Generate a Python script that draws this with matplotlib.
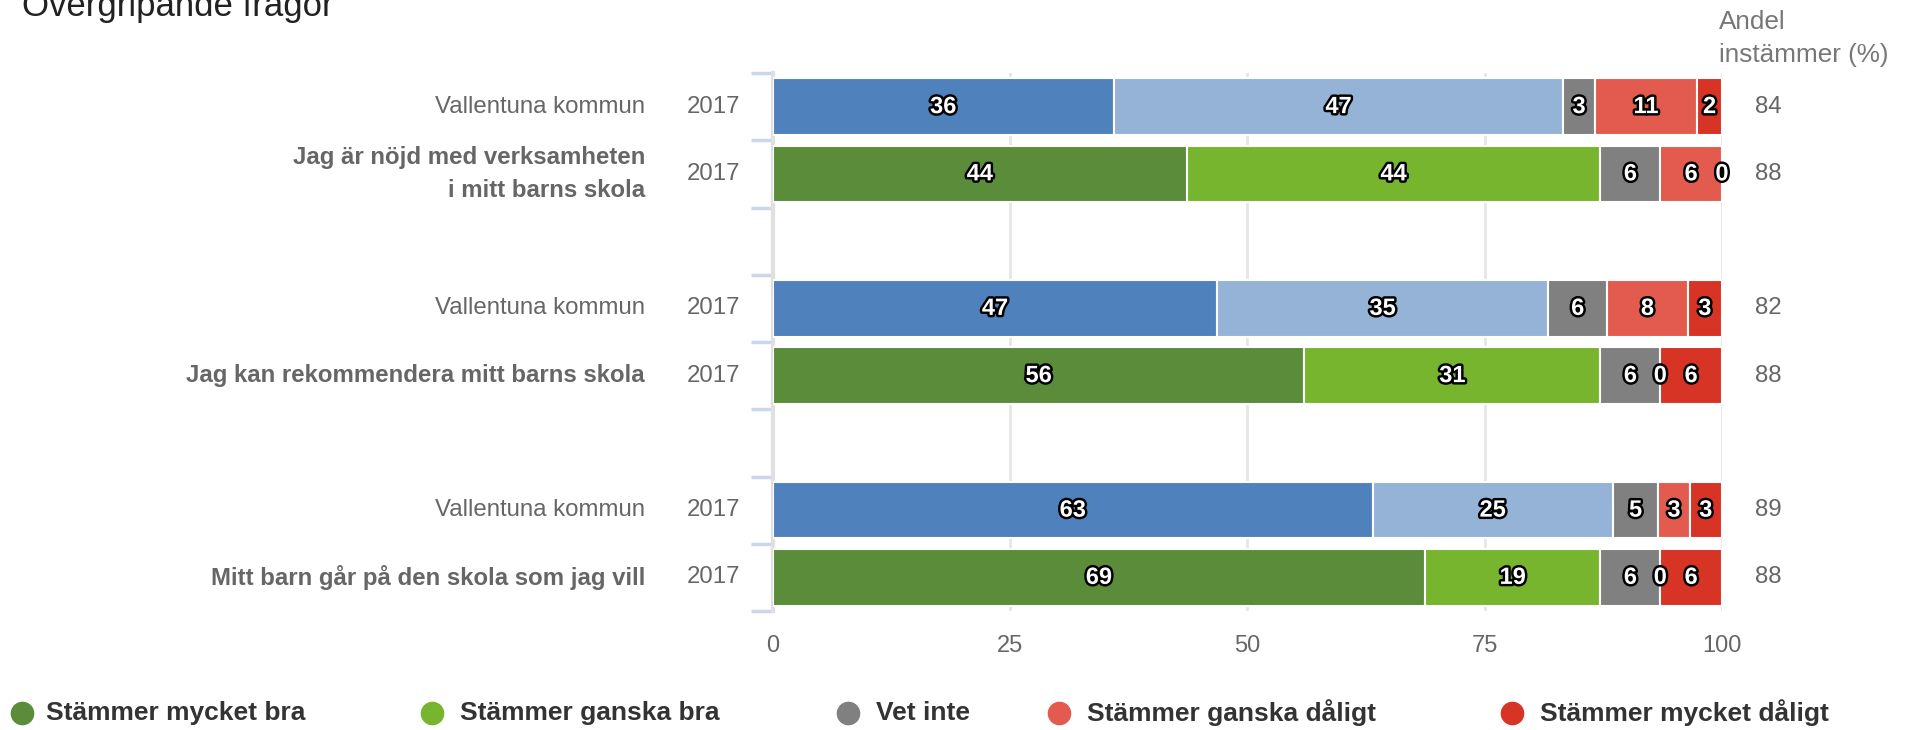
import numpy as np
import matplotlib
matplotlib.use("Agg")
import matplotlib.pyplot as plt
import matplotlib.patheffects as pe
from matplotlib.lines import Line2D

plt.rcParams["font.family"] = ["Liberation Sans", "DejaVu Sans"]

# ---------- data ----------
row_names = ["Vallentuna kommun", "Jag är nöjd med verksamheten\ni mitt barns skola", "",
             "Vallentuna kommun", "Jag kan rekommendera mitt barns skola", "",
             "Vallentuna kommun", "Mitt barn går på den skola som jag vill"]
row_years = ["2017", "2017", "", "2017", "2017", "", "2017", "2017"]
row_is_question = [False, True, False, False, True, False, False, True]

# segment widths and the printed labels
mycket_bra = [35.9, 43.6, None, 46.8, 56.0, None, 63.2, 68.7]
ganska_bra = [47.4, 43.6, None, 34.9, 31.2, None, 25.3, 18.5]
vet_inte = [3.3, 6.3, None, 6.2, 6.3, None, 4.8, 6.3]
ganska_daligt = [10.8, 6.5, None, 8.5, 0.0, None, 3.3, 0.0]
mycket_daligt = [2.6, 0.0, None, 3.6, 6.5, None, 3.4, 6.5]

lab_mycket_bra = [36, 44, None, 47, 56, None, 63, 69]
lab_ganska_bra = [47, 44, None, 35, 31, None, 25, 19]
lab_vet_inte = [3, 6, None, 6, 6, None, 5, 6]
lab_ganska_daligt = [11, 6, None, 8, 0, None, 3, 0]
lab_mycket_daligt = [2, 0, None, 3, 6, None, 3, 6]

andel_instammer = [84, 88, None, 82, 88, None, 89, 88]

legend_labels = ["Stämmer mycket bra", "Stämmer ganska bra", "Vet inte",
                 "Stämmer ganska dåligt", "Stämmer mycket dåligt"]
x_ticks = [0, 25, 50, 75, 100]

# ---------- style ----------
GREEN_DARK, GREEN_LIGHT = "#5b8c39", "#77b52f"
BLUE_DARK, BLUE_LIGHT = "#4f81bd", "#95b3d7"
GRAY, RED_LIGHT, RED_DARK = "#808080", "#e35b4f", "#d73426"
TXT = "#666666"

fig = plt.figure(figsize=(19.08, 7.3), dpi=100)
ax = fig.add_axes([0.4051, 0.163, 0.4974, 0.737])

series = [mycket_bra, ganska_bra, vet_inte, ganska_daligt, mycket_daligt]
labels = [lab_mycket_bra, lab_ganska_bra, lab_vet_inte, lab_ganska_daligt, lab_mycket_daligt]
outline = [pe.withStroke(linewidth=3.5, foreground="black")]

for i in range(len(row_names)):
    if mycket_bra[i] is None:
        continue
    if row_is_question[i]:
        cols = [GREEN_DARK, GREEN_LIGHT, GRAY, RED_LIGHT, RED_DARK]
    else:
        cols = [BLUE_DARK, BLUE_LIGHT, GRAY, RED_LIGHT, RED_DARK]
    left = 0.0
    for s, lab, c in zip(series, labels, cols):
        w = s[i]
        if w > 0:
            ax.barh(i, w, left=left, height=0.84, color=c, edgecolor="white",
                    linewidth=1.5, zorder=3)
        ax.text(left + w / 2, i, str(lab[i]), ha="center", va="center",
                fontsize=17, fontweight="bold", color="white",
                path_effects=outline, zorder=5)
        left += w

ax.set_xlim(0, 100)
ax.set_ylim(len(row_names) - 0.5, -0.5)

ax.set_xticks(x_ticks)
ax.set_xticklabels([str(t) for t in x_ticks])
ax.tick_params(axis="x", length=0, pad=17, labelsize=17, labelcolor=TXT)
ax.set_yticks(np.arange(-0.5, len(row_names), 1.0))
ax.set_yticklabels([])
ax.tick_params(axis="y", length=16, width=2.5, color="#ccd6eb")
ax.grid(axis="x", color="#e6e6e6", linewidth=2, zorder=0)
ax.set_axisbelow(True)
for sp in ["top", "right", "bottom"]:
    ax.spines[sp].set_visible(False)
ax.spines["left"].set_color("#e0e0e0")
ax.spines["left"].set_linewidth(3)

# row labels, years and the right-hand column
ytrans = ax.get_yaxis_transform()
for i, name in enumerate(row_names):
    if not name:
        continue
    ax.text(-0.1349, i, name, transform=ytrans, ha="right", va="center",
            fontsize=17.3, color=TXT, linespacing=1.55,
            fontweight="bold" if row_is_question[i] else "normal")
    ax.text(-0.0348, i, row_years[i], transform=ytrans, ha="right", va="center",
            fontsize=17.3, color=TXT)
    ax.text(1.0485, i, str(andel_instammer[i]), transform=ytrans, ha="center",
            va="center", fontsize=17.3, color=TXT)

ax.text(0.9968, 1.064, "Andel\ninstämmer (%)", transform=ax.transAxes,
        ha="left", va="center", fontsize=18.8, color="#777777", linespacing=1.45)

fig.text(22 / 1908, 1 - 16 / 730, "Övergripande frågor", ha="left",
         va="baseline", fontsize=25, color="#222222")

# legend
leg_colors = [GREEN_DARK, GREEN_LIGHT, GRAY, RED_LIGHT, RED_DARK]
leg_marker_x = [22, 432, 848, 1059, 1512]
leg_text_x = [46, 460, 876, 1087, 1540]
ly = 1 - 713 / 730
for lab, c, mx, tx in zip(legend_labels, leg_colors, leg_marker_x, leg_text_x):
    fig.add_artist(Line2D([mx / 1908], [ly], marker="o", markersize=16,
                          color=c, linestyle="none", transform=fig.transFigure))
    fig.text(tx / 1908, ly, lab, ha="left", va="center", fontsize=19,
             fontweight="bold", color="#333333")

fig.savefig("out.png", dpi=100)
